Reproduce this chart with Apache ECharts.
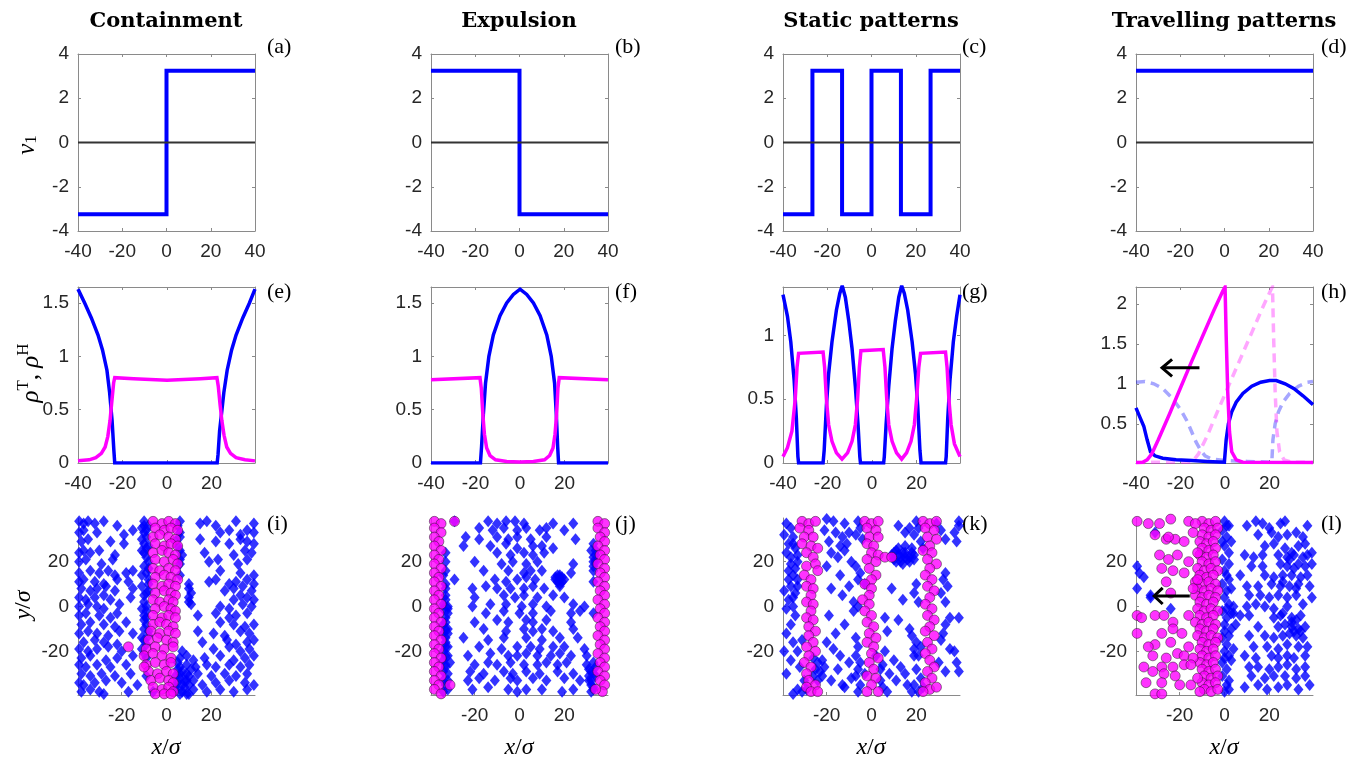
<!DOCTYPE html>
<html>
<head>
<meta charset="utf-8">
<script src="https://cdn.jsdelivr.net/npm/echarts@6/dist/echarts.min.js"></script>
<style>
  html, body { margin: 0; padding: 0; background: #fff; }
  #main { width: 1366px; height: 765px; }
</style>
</head>
<body>
<div id="main"></div>
<script>
// ---- axis limits and ticks ----
const xLimTop = [-40, 40], xLimMid = [-40, 39.5], xLimBot = [-39.5, 39.5]
const ticksXTop = [-40, -20, 0, 20, 40]
const ticksXMid = [-40, -20, 0, 20]
const ticksXBot = [-20, 0, 20]
const vLim = [-4, 4], ticksV = [-4, -2, 0, 2, 4]
const rhoLimEF = [0, 1.65], ticksRhoEF = [0, 0.5, 1, 1.5]
const rhoLimG = [0, 1.38], ticksRhoG = [0, 0.5, 1]
const rhoLimH = [0.01, 2.21], ticksRhoH = [0.5, 1, 1.5, 2]
const yLimBot = [-39.5, 39.5], ticksYBot = [-20, 0, 20]

// ---- row 1: v1 profiles ----
const zeroLine = [[-40, 0], [40, 0]]
const stepA = [[-40, -3.24], [0, -3.24], [0, 3.24], [40, 3.24]]
const stepB = [[-40, 3.24], [0, 3.24], [0, -3.24], [40, -3.24]]
const stepC = [[-40, -3.24], [-26.7, -3.24], [-26.7, 3.24], [-13.3, 3.24], [-13.3, -3.24], [0, -3.24], [0, 3.24],
  [13.3, 3.24], [13.3, -3.24], [26.7, -3.24], [26.7, 3.24], [40, 3.24]]
const stepD = [[-40, 3.24], [40, 3.24]]

// ---- row 2: densities (blue = rhoH, magenta = rhoT) ----
const blueE = [[-40, 1.63], [-37, 1.5], [-34, 1.36], [-31, 1.2], [-29, 1.06], [-27, 0.87], [-25.8, 0.66], [-24.7, 0.4],
  [-23.9, 0.12], [-23.5, 0], [22.5, 0], [22.9, 0.08], [23.6, 0.3], [24.4, 0.45], [25.5, 0.66], [27, 0.87], [29, 1.06],
  [31, 1.2], [34, 1.36], [37, 1.5], [39.5, 1.63]]
const pinkE = [[-40, 0.02], [-35, 0.03], [-32, 0.05], [-29.5, 0.09], [-27.8, 0.15], [-26.6, 0.25], [-25.6, 0.4],
  [-24.7, 0.6], [-24, 0.75], [-23.5, 0.8], [-15, 0.79], [0, 0.775], [15, 0.79], [22.4, 0.8], [23, 0.72], [23.8, 0.55],
  [24.6, 0.4], [25.6, 0.26], [26.8, 0.15], [28.5, 0.09], [31, 0.05], [35, 0.03], [39.5, 0.02]]
const blueF = [[-40, 0], [-17.8, 0], [-17.3, 0.15], [-16.5, 0.45], [-15.5, 0.75], [-14, 1.0], [-12, 1.2], [-9, 1.38],
  [-6, 1.5], [-3, 1.58], [0, 1.63], [3, 1.58], [6, 1.5], [9, 1.38], [12, 1.2], [14, 1.0], [15.5, 0.75], [16.3, 0.45],
  [16.9, 0.15], [17.3, 0], [39.5, 0]]
const pinkF = [[-40, 0.78], [-18, 0.8], [-17.4, 0.7], [-16.7, 0.45], [-16, 0.27], [-15, 0.14], [-13.5, 0.07],
  [-11, 0.03], [-6, 0.015], [0, 0.01], [6, 0.015], [11, 0.03], [13.3, 0.07], [14.8, 0.14], [15.7, 0.27], [16.4, 0.45],
  [17, 0.7], [17.6, 0.8], [39.5, 0.78]]
const blueG = [[-40, 1.32], [-38, 1.15], [-36.5, 0.95], [-35, 0.65], [-34, 0.35], [-33.3, 0.05], [-33, 0], [-22, 0],
  [-21.5, 0.1], [-20.5, 0.45], [-19.5, 0.7], [-18, 0.95], [-16, 1.2], [-14.5, 1.33], [-13.4, 1.39], [-12, 1.3],
  [-10.5, 1.12], [-9, 0.9], [-7.5, 0.6], [-6.3, 0.3], [-5.5, 0.05], [-5.2, 0], [5.2, 0], [5.5, 0.05], [6.3, 0.3],
  [7.5, 0.6], [9, 0.9], [10.5, 1.12], [12, 1.3], [13.3, 1.39], [14.5, 1.33], [16, 1.2], [18, 0.95], [19.5, 0.7],
  [20.5, 0.45], [21.5, 0.1], [22, 0], [33, 0], [33.3, 0.05], [34, 0.35], [35, 0.65], [36.5, 0.95], [38, 1.15], [39.5, 1.32]]
const pinkG = [[-40, 0.05], [-38, 0.12], [-36, 0.25], [-34.5, 0.5], [-33.7, 0.75], [-33, 0.86], [-22, 0.87],
  [-21.3, 0.75], [-20.5, 0.5], [-19.5, 0.3], [-18, 0.17], [-16, 0.08], [-13.5, 0.03], [-11, 0.08], [-9, 0.17],
  [-7.5, 0.3], [-6.5, 0.5], [-5.7, 0.75], [-5, 0.88], [5, 0.89], [5.8, 0.75], [6.6, 0.5], [7.5, 0.3], [9, 0.17],
  [11, 0.08], [13.3, 0.03], [15.5, 0.08], [17.5, 0.17], [19, 0.3], [20, 0.5], [21, 0.75], [21.8, 0.86], [33, 0.87],
  [33.7, 0.75], [34.5, 0.5], [35.5, 0.3], [37, 0.15], [39.5, 0.05]]
const blueH = [[-40, 0.7], [-38.5, 0.6], [-36.5, 0.47], [-35, 0.3], [-33.5, 0.15], [-31.5, 0.1], [-28, 0.07],
  [-22, 0.05], [-15, 0.04], [-8, 0.03], [-0.3, 0.02], [0.5, 0.3], [1.5, 0.5], [3, 0.65], [5, 0.77], [8, 0.88],
  [12, 0.97], [16, 1.02], [20, 1.04], [23, 1.04], [27, 1.0], [31, 0.94], [35, 0.85], [39.5, 0.74]]
const pinkH = [[-40, 0.017], [-37, 0.02], [-35, 0.05], [-33, 0.12], [-30, 0.3], [-25, 0.62], [-20, 0.95], [-15, 1.28],
  [-10, 1.6], [-5, 1.92], [-1, 2.16], [0, 2.21], [0.5, 1.6], [1.2, 0.9], [2, 0.4], [3, 0.15], [5, 0.05], [8, 0.02],
  [39.5, 0.017]]
const blueHPrev = [[-40, 1.02], [-36, 1.03], [-32, 1.0], [-28, 0.94], [-24, 0.83], [-20, 0.68], [-17, 0.53], [-15, 0.4],
  [-13, 0.27], [-11, 0.17], [-9, 0.1], [-6, 0.06], [0, 0.04], [10, 0.03], [21, 0.02], [21.5, 0.3], [22.5, 0.5],
  [24, 0.65], [26, 0.77], [29, 0.88], [33, 0.97], [37, 1.02], [39.5, 1.03]]
const pinkHPrev = [[-40, 0.017], [-16, 0.02], [-14, 0.05], [-12, 0.12], [-8, 0.35], [-3, 0.68], [2, 1.0], [7, 1.32],
  [12, 1.64], [17, 1.96], [20.5, 2.17], [21.3, 2.21], [21.8, 1.6], [22.5, 0.9], [23.3, 0.4], [24.5, 0.15],
  [26.5, 0.05], [30, 0.02], [39.5, 0.017]]
const arrowHShaft = [[-11.5, 1.2], [-28.3, 1.2]]
const arrowHHead = [[-23.8, 1.306], [-28.3, 1.2], [-23.8, 1.094]]

// ---- row 3: particle snapshots ----
const blueI = [[-39, 38], [-37, 37], [-35, 38], [-32, 37], [-28, 38], [-22, 36], [-10, 38], [-8, 36], [6, 38], [15, 37],
  [18, 38], [22, 36], [31, 38], [39, 37], [-39, 33], [-37, 34], [-31, 33], [-19, 32], [-15, 34], [-10, 33], [24, 33],
  [28, 34], [33, 32], [36, 34], [39, 33], [-38, 29], [-35, 30], [-25, 29], [-19, 28], [4, 29], [15, 30], [22, 29],
  [28, 28], [33, 30], [36, 29], [39, 28], [-39, 24], [-37, 25], [-34, 24], [-30, 25], [-23, 23], [-10, 24], [6, 25],
  [17, 24], [30, 23], [35, 25], [38, 24], [-39, 20], [-36, 21], [-29, 19], [-24, 21], [-8, 20], [6, 19], [19, 20],
  [23, 21], [32, 19], [36, 21], [-39, 15], [-34, 16], [-30, 15], [-26, 16], [-23, 14], [-18, 15], [-15, 16], [-9, 15],
  [6, 14], [24, 16], [33, 15], [39, 14], [-39, 11], [-37, 12], [-32, 11], [-28, 10], [-22, 12], [-17, 11], [-8, 10],
  [19, 11], [22, 12], [28, 10], [31, 11], [36, 12], [39, 10], [-38, 8], [-34, 7], [-31, 8], [-27, 9], [-23, 7],
  [-15, 8], [-8, 7], [10, 8], [26, 7], [30, 8], [34, 9], [38, 7], [-39, 4], [-36, 3], [-32, 4], [-28, 5], [-25, 3],
  [-16, 4], [-10, 5], [10, 4], [30, 3], [33, 5], [36, 4], [39, 3], [-39, 0], [-35, 1], [-31, 0], [-28, -1], [-21, 1],
  [-9, 0], [11, 1], [24, 0], [28, -1], [34, 1], [38, 0], [-39, -4], [-36, -3], [-30, -4], [-25, -5], [-22, -3],
  [-10, -4], [14, -4], [22, -3], [28, -5], [31, -4], [36, -3], [-38, -8], [-34, -7], [-28, -8], [-23, -9], [-18, -7],
  [-9, -8], [24, -7], [30, -8], [35, -9], [39, -8], [-39, -12], [-35, -11], [-31, -12], [-26, -13], [-21, -11],
  [-15, -12], [-8, -13], [14, -11], [21, -12], [26, -13], [33, -11], [37, -12], [-37, -16], [-32, -15], [-28, -16],
  [-22, -17], [-10, -15], [16, -16], [27, -15], [31, -17], [36, -16], [39, -15], [-39, -19], [-35, -20], [-31, -19],
  [-26, -18], [-20, -20], [-11, -19], [7, -20], [21, -19], [28, -18], [33, -20], [37, -19], [-38, -23], [-34, -22],
  [-27, -24], [-22, -23], [-15, -22], [-9, -23], [6, -23], [9, -22], [12, -24], [17, -23], [24, -22], [30, -24],
  [35, -23], [39, -22], [-39, -26], [-36, -27], [-31, -26], [-25, -27], [-18, -26], [6, -27], [9, -26], [13, -27],
  [18, -26], [22, -27], [28, -26], [33, -27], [37, -26], [-38, -30], [-34, -31], [-29, -30], [-23, -31], [-16, -30],
  [-9, -31], [6, -30], [10, -31], [14, -30], [20, -31], [26, -30], [31, -31], [36, -30], [-39, -34], [-37, -35],
  [-32, -34], [-27, -33], [-20, -34], [-13, -35], [5, -34], [9, -33], [16, -35], [22, -34], [28, -33], [35, -34],
  [39, -35], [-38, -38], [-34, -37], [-30, -38], [-28, -39], [-17, -38], [-6, -38], [4, -37], [7, -38], [10, -39],
  [18, -38], [24, -37], [30, -38], [36, -37], [-10, 36], [-9, 31], [-10, 28], [-9, 26], [-9, 22], [-10, 18], [-9, 6],
  [-10, 2], [-9, -2], [-10, -6], [-10, -10], [-9, -17], [-10, -21], [5, 36], [6, 33], [6, 31], [5, 27], [7, 23],
  [6, 21], [5, -25], [7, -29], [8, -33], [11, -28], [4, -36], [8, -36], [6, -39], [12, -33], [10, 10], [11, 6], [10, 2],
  [-11, 35], [-9, 34], [-11, 30], [-8, 27], [-11, 25], [-8, 17], [-11, 14], [-8, 12], [-11, 9], [-9, -5], [-11, -1],
  [-8, -11], [-11, -14], [5, -28], [6, -32], [9, -30], [7, -35], [10, -35], [12, -37], [9, -39], [4, -31]]
const pinkI = [[-6, 38], [-2, 37], [1, 38], [4, 37], [-5, 35], [-1, 34], [2, 35], [5, 34], [-6, 31], [-3, 32], [1, 31],
  [4, 30], [-5, 28], [-1, 27], [2, 28], [5, 27], [-6, 24], [-2, 25], [1, 24], [4, 23], [-5, 21], [-1, 20], [3, 21],
  [5, 19], [-6, 17], [-3, 16], [1, 17], [4, 16], [-5, 13], [-1, 14], [2, 13], [5, 12], [-6, 10], [-2, 9], [1, 10],
  [4, 9], [-5, 6], [-1, 7], [2, 6], [4, 5], [-6, 3], [-3, 2], [1, 3], [3, 2], [-5, -1], [-1, 0], [2, -1], [4, -2],
  [-6, -4], [-2, -5], [1, -4], [4, -5], [-6, -8], [-3, -7], [0, -8], [3, -9], [-7, -11], [-3, -12], [1, -11], [4, -12],
  [-8, -15], [-4, -14], [0, -15], [3, -16], [-9, -19], [-5, -18], [-1, -19], [3, -18], [-10, -22], [-6, -21],
  [-2, -22], [2, -23], [-9, -26], [-5, -25], [-1, -26], [2, -25], [-8, -29], [-4, -30], [0, -29], [3, -30], [-7, -33],
  [-3, -32], [1, -33], [3, -34], [-6, -36], [-2, -37], [1, -36], [3, -38], [-5, -39], [-1, -39], [2, -39], [-17, -18],
  [-10, -27]]
const blueJ = [[-29, 38], [-14, 38], [-10, 37], [-6, 38], [-2, 38], [2, 37], [15, 37], [24, 37], [-18, 35], [-12, 34],
  [-7, 35], [-1, 34], [3, 35], [9, 34], [12, 35], [20, 34], [-24, 31], [-18, 30], [-10, 31], [-5, 30], [-1, 31],
  [5, 30], [12, 31], [25, 30], [-25, 27], [-13, 27], [-6, 28], [-1, 26], [6, 27], [10, 27], [15, 26], [-10, 24],
  [-4, 23], [2, 24], [6, 23], [11, 24], [34, 23], [-33, 20], [-20, 20], [-8, 19], [-3, 20], [3, 19], [8, 20], [24, 19],
  [33, 20], [-33, 16], [-16, 16], [-5, 16], [2, 15], [5, 16], [10, 16], [23, 15], [33, 16], [-29, 12], [-11, 12],
  [-6, 11], [-1, 12], [3, 13], [7, 12], [16, 12], [18, 13], [20, 12], [33, 11], [-33, 8], [-21, 8], [-15, 9], [-10, 8],
  [-4, 8], [2, 8], [6, 9], [11, 8], [18, 9], [-33, 5], [-20, 4], [-7, 5], [-2, 4], [2, 5], [8, 4], [15, 5], [20, 4],
  [-34, 1], [-21, 0], [-13, 1], [-6, 1], [1, 0], [6, 1], [12, 0], [24, 1], [29, 0], [-32, -3], [-15, -3], [-7, -2],
  [0, -3], [6, -3], [14, -2], [23, -3], [27, -2], [33, -3], [-33, -7], [-20, -7], [-10, -6], [-5, -7], [3, -6],
  [6, -7], [12, -6], [23, -7], [-32, -10], [-16, -10], [-6, -11], [2, -10], [6, -11], [10, -10], [15, -11], [24, -10],
  [-33, -14], [-25, -14], [-14, -15], [-7, -14], [3, -14], [10, -15], [18, -14], [26, -14], [-32, -18], [-18, -18],
  [-8, -19], [-1, -18], [5, -18], [9, -19], [15, -18], [20, -18], [29, -19], [-33, -22], [-23, -22], [-13, -21],
  [-5, -22], [-1, -22], [3, -21], [8, -22], [14, -22], [18, -21], [23, -22], [30, -22], [-33, -26], [-20, -26],
  [-14, -25], [-10, -26], [-4, -25], [2, -26], [8, -26], [12, -25], [17, -26], [21, -25], [30, -26], [33, -25],
  [-34, -29], [-22, -29], [-16, -30], [-7, -29], [-3, -30], [3, -29], [9, -30], [17, -29], [24, -30], [32, -29],
  [-32, -33], [-23, -33], [-18, -32], [-11, -33], [-4, -32], [-1, -33], [6, -32], [12, -33], [20, -32], [27, -33],
  [31, -33], [-32, -37], [-21, -37], [-14, -36], [-5, -37], [-1, -38], [3, -37], [10, -37], [19, -38], [24, -37],
  [17, 11], [18, 14], [19, 11], [-34, -1], [-33, -5], [-34, -12], [-33, -16], [-34, -20], [-34, -24], [-33, 10],
  [-34, 14], [-33, -35], [-34, -38], [33, 28], [34, 25], [33, 18], [33, -30], [32, -35], [33, -37], [31, -31], [34, -27],
  [-33, -10], [-32, -12], [-34, -8], [-33, 3], [-32, -1], [-33, -18], [-32, -22], [-33, -27], [-32, -30], [-34, -33],
  [-33, 24], [-32, 0], [-31, -25], [33, 22], [32, 25], [34, 20], [32, -33], [34, -31], [31, -28], [33, -36], [32, -38],
  [16, 13], [18, 10], [17, 14], [19, 13]]
const pinkJ = [[-38, 38], [-35, 37], [-38, 35], [-35, 33], [-38, 31], [-36, 29], [-38, 27], [-35, 25], [-38, 23],
  [-36, 21], [-38, 19], [-35, 17], [-38, 15], [-36, 13], [-38, 11], [-35, 9], [-38, 7], [-36, 5], [-38, 3], [-35, 1],
  [-38, -1], [-36, -3], [-38, -5], [-35, -7], [-38, -9], [-36, -11], [-38, -13], [-35, -15], [-38, -17], [-36, -19],
  [-38, -21], [-35, -23], [-38, -25], [-36, -27], [-38, -29], [-35, -31], [-38, -33], [-36, -35], [-38, -37],
  [-35, -39], [-29, 38], [-31, -35], [35, 38], [38, 37], [35, 35], [38, 33], [36, 31], [38, 29], [35, 27], [38, 25],
  [36, 23], [38, 21], [35, 19], [38, 17], [36, 15], [38, 13], [35, 11], [38, 9], [36, 7], [38, 5], [35, 3], [38, 1],
  [36, -1], [38, -3], [35, -5], [38, -7], [36, -9], [38, -11], [35, -13], [38, -15], [36, -17], [38, -19], [35, -21],
  [38, -23], [36, -25], [38, -27], [35, -29], [38, -31], [36, -33], [38, -35], [37, -38], [34, -37]]
const blueK = [[-38, 37], [-36, 35], [-39, 32], [-35, 31], [-37, 28], [-34, 26], [-38, 24], [-36, 22], [-33, 20],
  [-37, 16], [-35, 14], [-33, 12], [-36, 9], [-39, 7], [-34, 6], [-37, 3], [-35, 0], [-38, -1], [-34, -4], [-36, -8],
  [-38, -12], [-35, -16], [-39, -20], [-36, -24], [-38, -30], [-33, -37], [-35, -39], [-31, -38], [-31, -15],
  [-33, -20], [-32, -27], [-30, -33], [-29, -37], [-26, -23], [-24, -25], [-22, -24], [-25, -28], [-23, -29],
  [-21, -27], [-26, -31], [-24, -33], [-22, -31], [-20, 39], [-17, 38], [-12, 37], [-21, 34], [-16, 33], [-13, 31],
  [-10, 33], [-19, 29], [-14, 27], [-11, 28], [-18, 24], [-12, 25], [-15, 22], [-9, 20], [-20, 18], [-14, 14],
  [-18, 8], [-10, 9], [-13, 5], [-8, 2], [-6, 0], [-19, -4], [-12, -8], [-16, -12], [-20, -16], [-17, -19], [-14, -22],
  [-10, -25], [-15, -28], [-18, -33], [-12, -36], [-9, -32], [-13, -35], [-6, 38], [-5, 35], [-7, 32], [-4, 30],
  [-7, 18], [-5, 15], [-6, 12], [-3, 10], [-8, -2], [-7, -14], [-6, -18], [-7, -22], [-5, -25], [-6, -28], [-7, -31],
  [-5, -35], [-6, -38], [-3, -30], [6, -5], [7, -11], [6, -20], [5, -26], [8, -30], [4, -33], [7, -38], [5, -36],
  [2, -22], [4, -28], [12, 36], [15, 33], [17, 35], [9, 8], [14, 3], [12, -6], [17, -10], [10, -24], [13, -27],
  [15, -30], [11, -33], [16, -35], [18, -38], [19, -22], [9, 23], [11, 25], [13, 22], [15, 24], [17, 22], [19, 23],
  [11, 20], [14, 19], [17, 20], [12, 26], [15, 27], [18, 26], [20, 38], [21, 35], [19, 32], [22, 29], [23, 26],
  [20, 10], [19, 6], [21, 2], [18, -13], [20, -16], [22, -18], [19, -19], [21, -22], [20, -28], [22, -32], [19, -35],
  [21, -38], [23, -36], [29, 37], [31, 34], [33, 30], [33, 15], [32, 12], [34, 9], [31, 6], [33, 2], [35, -5],
  [33, -8], [32, -12], [31, -15], [35, -19], [30, -25], [33, -29], [39, 36], [37, 33], [39, 38], [38, 29], [39, -5],
  [37, -20], [38, -25], [39, -29], [10, 21], [12, 23], [14, 24], [16, 21], [18, 24], [13, 20], [15, 22], [19, 21],
  [10, 24], [-35, 28], [-33, 23], [-36, 19], [-34, 17], [-37, 12], [-33, 9], [-35, 4]]
const pinkK = [[-31, 38], [-28, 37], [-25, 38], [-32, 35], [-28, 34], [-30, 31], [-26, 31], [-31, 28], [-27, 27],
  [-24, 26], [-29, 24], [-26, 22], [-29, 18], [-25, 19], [-24, 16], [-30, 14], [-27, 12], [-29, 9], [-26, 8], [-27, 5],
  [-29, 2], [-26, 1], [-27, -2], [-29, -5], [-26, -6], [-28, -9], [-25, -11], [-28, -13], [-26, -16], [-29, -18],
  [-25, -20], [-28, -22], [-30, -25], [-27, -27], [-29, -30], [-28, -33], [-25, -35], [-29, -36], [-27, -38],
  [-24, -38], [-3, 38], [0, 37], [3, 38], [-2, 35], [2, 34], [-1, 31], [3, 31], [-2, 28], [1, 27], [0, 24], [3, 23],
  [6, 22], [9, 22], [-2, 21], [2, 20], [-1, 17], [2, 14], [0, 12], [-3, 10], [0, 8], [-1, 5], [-4, 3], [-1, 1],
  [-3, -2], [0, -4], [-2, -7], [1, -9], [-1, -12], [2, -14], [-2, -16], [1, -18], [0, -21], [3, -23], [-1, -25],
  [1, -28], [-2, -31], [2, -32], [0, -35], [-2, -38], [3, -38], [23, 38], [26, 37], [29, 38], [24, 35], [28, 34],
  [25, 31], [29, 30], [26, 27], [23, 25], [27, 24], [25, 21], [29, 19], [26, 17], [24, 14], [27, 12], [25, 9], [28, 7],
  [26, 4], [24, 1], [27, -1], [25, -4], [28, -6], [26, -9], [24, -11], [28, -13], [25, -16], [27, -19], [24, -21],
  [26, -24], [28, -27], [25, -29], [27, -32], [24, -34], [26, -37], [29, -36], [23, -38]]
const blueL = [[0, 38], [2, 36], [-1, 34], [1, 31], [3, 29], [0, 27], [2, 24], [-1, 21], [1, 14], [-1, 10], [1, 7],
  [0, 4], [2, 1], [-1, -2], [1, -5], [3, -3], [0, -8], [-1, -14], [1, -17], [0, -20], [2, -22], [-1, -25], [1, -35],
  [0, -38], [2, -37], [3, 8], [4, -3], [5, -8], [4, -19], [3, -24], [10, 36], [14, 38], [17, 37], [20, 35], [25, 37],
  [27, 38], [37, 36], [15, 32], [21, 33], [24, 31], [28, 32], [32, 33], [35, 31], [18, 27], [22, 28], [27, 26],
  [33, 27], [36, 28], [9, 23], [13, 22], [17, 23], [24, 23], [28, 22], [31, 23], [35, 22], [37, 23], [39, 24],
  [12, 18], [17, 18], [25, 19], [28, 18], [31, 17], [36, 18], [39, 19], [7, 14], [18, 14], [22, 13], [26, 14],
  [30, 14], [34, 13], [37, 14], [10, 9], [15, 9], [21, 10], [25, 9], [29, 9], [33, 10], [38, 9], [11, 5], [16, 5],
  [20, 4], [24, 5], [28, 4], [32, 5], [39, 4], [4, 0], [10, 0], [14, 1], [18, 0], [22, -1], [28, 0], [35, 1], [7, -4],
  [11, -4], [22, -5], [25, -4], [26, -3], [30, -5], [34, -4], [15, -9], [24, -9], [27, -8], [30, -9], [33, -10],
  [36, -9], [11, -13], [18, -13], [22, -14], [26, -13], [29, -12], [32, -13], [35, -14], [13, -18], [19, -18],
  [24, -19], [28, -17], [33, -18], [37, -18], [9, -22], [14, -23], [21, -22], [24, -23], [28, -22], [31, -23],
  [36, -22], [11, -27], [15, -27], [20, -28], [24, -27], [28, -26], [32, -28], [36, -27], [12, -31], [18, -32],
  [22, -31], [27, -31], [32, -32], [36, -31], [9, -36], [15, -35], [19, -37], [24, -36], [28, -35], [33, -37],
  [38, -35], [-39, 18], [-38, 15], [-36, 13], [-39, 8], [-33, 5], [-31, 33], [-24, -1], [-33, 4], [1, 36], [-1, 29],
  [2, 19], [0, 16], [2, 12], [0, -11], [2, -13], [1, -28], [-1, -31], [2, -33], [0, -23], [3, -10], [1, -1], [30, -7],
  [32, -6], [34, -11], [31, -11], [29, 21], [33, 19], [30, 24], [26, 11], [32, 8]]
const pinkL = [[-10, 38], [-7, 37], [-4, 38], [-9, 35], [-6, 34], [-3, 35], [-10, 32], [-7, 31], [-4, 32], [-11, 29],
  [-8, 28], [-5, 29], [-10, 26], [-7, 25], [-4, 26], [-11, 23], [-8, 22], [-5, 23], [-10, 20], [-7, 19], [-4, 20],
  [-12, 17], [-9, 16], [-6, 17], [-3, 16], [-11, 14], [-8, 13], [-5, 14], [-13, 11], [-10, 10], [-7, 11], [-4, 10],
  [-12, 8], [-9, 7], [-6, 8], [-3, 7], [-13, 5], [-10, 4], [-7, 5], [-4, 4], [-11, 2], [-8, 1], [-5, 2], [-12, -1],
  [-9, -2], [-6, -1], [-3, -2], [-11, -4], [-8, -5], [-5, -4], [-13, -7], [-10, -8], [-7, -7], [-4, -8], [-11, -10],
  [-8, -11], [-5, -10], [-12, -13], [-9, -14], [-6, -13], [-3, -14], [-10, -16], [-7, -17], [-4, -16], [-11, -19],
  [-8, -20], [-5, -19], [-10, -22], [-7, -23], [-4, -22], [-11, -25], [-8, -26], [-5, -25], [-10, -28], [-7, -29],
  [-4, -28], [-9, -31], [-6, -32], [-3, -31], [-10, -34], [-7, -35], [-4, -34], [-9, -37], [-6, -38], [-3, -37],
  [-39, 38], [-34, 37], [-29, 37], [-24, 39], [-16, 38], [-13, 37], [-31, 32], [-26, 30], [-22, 30], [-18, 29],
  [-25, 31], [-14, 33], [-29, 23], [-25, 21], [-21, 23], [-16, 20], [-12, 24], [-28, 17], [-23, 16], [-18, 15],
  [-26, 11], [-14, 8], [-12, 12], [-24, 6], [-39, -4], [-37, -5], [-31, -4], [-27, -4], [-23, -7], [-16, -4],
  [-23, -10], [-28, -12], [-39, -12], [-19, -12], [-31, -17], [-24, -16], [-16, -18], [-34, -18], [-32, -22],
  [-26, -23], [-21, -21], [-18, -22], [-14, -23], [-36, -27], [-28, -27], [-23, -27], [-18, -26], [-15, -26],
  [-32, -29], [-27, -30], [-22, -31], [-35, -34], [-28, -34], [-20, -35], [-15, -35], [-31, -39], [-28, -39],
  [-12, -32], [-11, -38]]
const arrowLShaft = [[-15.5, 4.7], [-31.4, 4.7]]
const arrowLHead = [[-27.6, 8.3], [-31.4, 4.7], [-27.6, 1.1]]

// ---- build ----
const colLeft = [78, 431, 783, 1136]
const rowTop = [54, 287, 518]
const axisColor = '#8a8a8a'
const BLUE = '#0000ff'
const PINK = '#ff00ff'
const grid = []
const xAxis = []
const yAxis = []
const series = []

function makeAxis(gi, lim, ticks, pos, labels) {
  const horiz = pos === 'bottom' || pos === 'top'
  return {
    type: 'value', gridIndex: gi, position: pos, min: lim[0], max: lim[1],
    axisLine: { show: true, onZero: false, lineStyle: { color: axisColor, width: 1 } },
    axisTick: { show: true, inside: true, length: 3, customValues: ticks, lineStyle: { color: axisColor } },
    axisLabel: {
      show: labels, customValues: ticks, color: '#262626', fontSize: 19,
      fontFamily: 'Liberation Sans', margin: horiz ? 11 : 9
    },
    splitLine: { show: false }
  }
}

function panel(r, c, xl, xt, yl, yt, box) {
  const gi = grid.length
  grid.push({ left: colLeft[c], top: rowTop[r], width: 177, height: r === 1 ? 176 : 177 })
  const xi = xAxis.length
  const yi = yAxis.length
  xAxis.push(makeAxis(gi, xl, xt, 'bottom', true))
  yAxis.push(makeAxis(gi, yl, yt, 'left', true))
  if (box) {
    xAxis.push(makeAxis(gi, xl, xt, 'top', false))
    yAxis.push(makeAxis(gi, yl, yt, 'right', false))
  }
  return { xi, yi }
}

function line(p, data, color, width, dashed) {
  series.push({
    type: 'line', xAxisIndex: p.xi, yAxisIndex: p.yi, data: data, showSymbol: false, symbol: 'none',
    silent: true, lineStyle: { color: color, width: width, type: dashed ? [9, 6] : 'solid', join: 'miter' }
  })
}

function dots(p, blue, pink) {
  series.push({
    type: 'scatter', xAxisIndex: p.xi, yAxisIndex: p.yi, data: blue, symbol: 'diamond', symbolSize: [10, 12],
    clip: false, silent: true, itemStyle: { color: BLUE }
  })
  series.push({
    type: 'scatter', xAxisIndex: p.xi, yAxisIndex: p.yi, data: pink, symbol: 'circle', symbolSize: 10,
    clip: false, silent: true, itemStyle: { color: PINK, borderColor: '#1a1a1a', borderWidth: 0.6 }
  })
}

// row 1
const steps = [stepA, stepB, stepC, stepD]
steps.forEach((s, c) => {
  const p = panel(0, c, xLimTop, ticksXTop, vLim, ticksV, true)
  line(p, s, BLUE, 4)
  line(p, zeroLine, '#333333', 2)
})

// row 2
let p = panel(1, 0, xLimMid, ticksXMid, rhoLimEF, ticksRhoEF, true)
line(p, blueE, BLUE, 3.5)
line(p, pinkE, PINK, 3.5)
p = panel(1, 1, xLimMid, ticksXMid, rhoLimEF, ticksRhoEF, true)
line(p, blueF, BLUE, 3.5)
line(p, pinkF, PINK, 3.5)
p = panel(1, 2, xLimMid, ticksXMid, rhoLimG, ticksRhoG, true)
line(p, blueG, BLUE, 3.5)
line(p, pinkG, PINK, 3.5)
p = panel(1, 3, xLimMid, ticksXMid, rhoLimH, ticksRhoH, true)
line(p, blueHPrev, 'rgba(0,0,255,0.35)', 3.5, true)
line(p, pinkHPrev, 'rgba(255,0,255,0.35)', 3.5, true)
line(p, blueH, BLUE, 3.5)
line(p, pinkH, PINK, 3.5)
line(p, arrowHShaft, '#000', 3)
line(p, arrowHHead, '#000', 3)

// row 3
const snaps = [[blueI, pinkI], [blueJ, pinkJ], [blueK, pinkK], [blueL, pinkL]]
snaps.forEach((s, c) => {
  const q = panel(2, c, xLimBot, ticksXBot, yLimBot, ticksYBot, false)
  dots(q, s[0], s[1])
  if (c === 3) {
    line(q, arrowLShaft, '#000', 3)
    line(q, arrowLHead, '#000', 3)
  }
})

// ---- text ----
const serif = '"Liberation Serif", "DejaVu Serif", serif'
const titles = ['Containment', 'Expulsion', 'Static patterns', 'Travelling patterns']
const letters = [['(a)', '(b)', '(c)', '(d)'], ['(e)', '(f)', '(g)', '(h)'], ['(i)', '(j)', '(k)', '(l)']]
const letterX = [267, 615, 962, 1321]
const letterY = [47, 292, 524]
const graphic = []
titles.forEach((t, c) => {
  graphic.push({
    type: 'text', x: colLeft[c] + 88, y: 22, silent: true,
    style: { text: t, fontFamily: '"DejaVu Serif", serif', fontWeight: 'bold', fontSize: 21, fill: '#000', align: 'center', verticalAlign: 'middle' }
  })
  graphic.push({
    type: 'text', x: colLeft[c] + 88, y: 748, silent: true,
    style: {
      text: '{i|x}{r|/}{i|σ}', align: 'center', verticalAlign: 'middle',
      rich: { i: { fontFamily: serif, fontStyle: 'italic', fontSize: 24, fill: '#000' }, r: { fontFamily: serif, fontSize: 24, fill: '#000' } }
    }
  })
})
letters.forEach((row, r) => row.forEach((l, c) => {
  graphic.push({
    type: 'text', x: letterX[c], y: letterY[r], silent: true,
    style: { text: l, fontFamily: serif, fontSize: 22, fill: '#000', align: 'left', verticalAlign: 'middle' }
  })
}))
graphic.push({
  type: 'text', x: 27, y: 145, rotation: Math.PI / 2, silent: true,
  style: {
    text: '{i|v}{s|1}', align: 'center', verticalAlign: 'middle',
    rich: { i: { fontFamily: serif, fontStyle: 'italic', fontSize: 25, fill: '#000' }, s: { fontFamily: serif, fontSize: 17, fill: '#000', padding: [10, 0, 0, 0] } }
  }
})
graphic.push({
  type: 'text', x: 31, y: 373, rotation: Math.PI / 2, silent: true,
  style: {
    text: '{i|ρ}{s|T}{r|, }{i|ρ}{s|H}', align: 'center', verticalAlign: 'middle',
    rich: {
      i: { fontFamily: serif, fontStyle: 'italic', fontSize: 25, fill: '#000' },
      r: { fontFamily: serif, fontSize: 25, fill: '#000' },
      s: { fontFamily: serif, fontSize: 17, fill: '#000', padding: [0, 0, 14, 0] }
    }
  }
})
graphic.push({
  type: 'text', x: 24, y: 605, rotation: Math.PI / 2, silent: true,
  style: {
    text: '{i|y}{r|/}{i|σ}', align: 'center', verticalAlign: 'middle',
    rich: { i: { fontFamily: serif, fontStyle: 'italic', fontSize: 24, fill: '#000' }, r: { fontFamily: serif, fontSize: 24, fill: '#000' } }
  }
})

const chart = echarts.init(document.getElementById('main'), null, { renderer: 'canvas' })
chart.setOption({
  animation: false,
  backgroundColor: '#fff',
  grid: grid,
  xAxis: xAxis,
  yAxis: yAxis,
  series: series,
  graphic: graphic
})
</script>
</body>
</html>
